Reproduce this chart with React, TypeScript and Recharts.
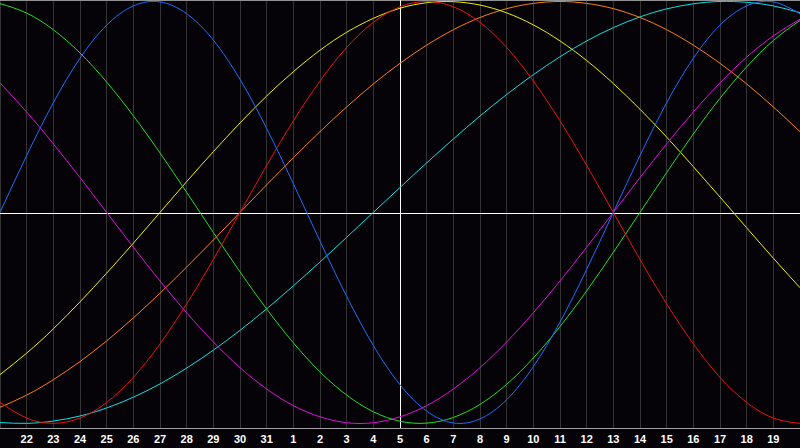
import React from "react";
import {
  LineChart,
  Line,
  XAxis,
  YAxis,
  CartesianGrid,
  ReferenceLine,
} from "recharts";

// day labels along the bottom (21st of one month to 20th of the next)
const dayLabels = [
  "21", "22", "23", "24", "25", "26", "27", "28", "29", "30", "31",
  "1", "2", "3", "4", "5", "6", "7", "8", "9", "10",
  "11", "12", "13", "14", "15", "16", "17", "18", "19", "20",
];

// cycle values per day, in percent
const blue = [
  0, 27.0, 52.0, 73.1, 88.8, 97.9, 99.8, 94.2, 81.7, 63.1, 39.8, 13.6, -13.6,
  -39.8, -63.1, -81.7, -94.2, -99.8, -97.9, -88.8, -73.1, -52.0, -27.0, 0, 27.0,
  52.0, 73.1, 88.8, 97.9, 99.8, 94.2,
];
const red = [
  -90.1, -97.5, -100, -97.5, -90.1, -78.2, -62.3, -43.4, -22.3, 0, 22.3, 43.4,
  62.3, 78.2, 90.1, 97.5, 100, 97.5, 90.1, 78.2, 62.3, 43.4, 22.3, 0, -22.3,
  -43.4, -62.3, -78.2, -90.1, -97.5, -100,
];
const green = [
  99.0, 94.5, 86.6, 75.6, 61.8, 45.8, 28.2, 9.5, -9.5, -28.2, -45.8, -61.8,
  -75.6, -86.6, -94.5, -99.0, -99.9, -97.2, -91.0, -81.5, -69.0, -54.1, -37.2,
  -18.9, 0, 18.9, 37.2, 54.1, 69.0, 81.5, 91.0,
];
const magenta = [
  61.4, 47.6, 32.5, 16.5, 0, -16.5, -32.5, -47.6, -61.4, -73.6, -83.7, -91.6,
  -96.9, -99.7, -99.7, -96.9, -91.6, -83.7, -73.6, -61.4, -47.6, -32.5, -16.5, 0,
  16.5, 32.5, 47.6, 61.4, 73.6, 83.7, 91.6,
];
const yellow = [
  -76.9, -66.7, -55.2, -42.4, -28.8, -14.6, 0, 14.6, 28.8, 42.4, 55.2, 66.7,
  76.9, 85.4, 92.0, 96.8, 99.4, 99.9, 98.3, 94.6, 88.9, 81.3, 72.0, 61.1, 48.9,
  35.7, 21.7, 7.3, -7.3, -21.7, -35.7,
];
const orange = [
  -92.4, -86.6, -79.3, -70.7, -60.9, -50.0, -38.3, -25.9, -13.1, 0, 13.1, 25.9,
  38.3, 50.0, 60.9, 70.7, 79.3, 86.6, 92.4, 96.6, 99.1, 100, 99.1, 96.6, 92.4,
  86.6, 79.3, 70.7, 60.9, 50.0, 38.3,
];
const cyan = [
  -99.6, -100.0, -98.9, -96.5, -92.7, -87.6, -81.3, -73.8, -65.3, -55.9, -45.7,
  -34.8, -23.5, -11.8, 0, 11.8, 23.5, 34.8, 45.7, 55.9, 65.3, 73.8, 81.3, 87.6,
  92.7, 96.5, 98.9, 100.0, 99.6, 97.9, 94.7,
];

const tickIdx = dayLabels.map((_, i) => i).filter((i) => i > 0 && i < dayLabels.length - 1);
const todayIdx = dayLabels.indexOf("5");

const data = dayLabels.map((day, i) => ({
  idx: i,
  day,
  blue: blue[i],
  red: red[i],
  green: green[i],
  magenta: magenta[i],
  yellow: yellow[i],
  orange: orange[i],
  cyan: cyan[i],
}));

const series = [
  { key: "cyan", color: "#10e0e0" },
  { key: "orange", color: "#ff8010" },
  { key: "yellow", color: "#f0f000" },
  { key: "magenta", color: "#e010e0" },
  { key: "green", color: "#20e020" },
  { key: "red", color: "#ee1111" },
  { key: "blue", color: "#1e6eff" },
];

const App: React.FC = () => (
  <div
    style={{
      position: "fixed",
      left: 0,
      top: 0,
      width: 800,
      height: 448,
      background: "#050308",
    }}
  >
    <LineChart
      width={800}
      height={448}
      data={data}
      margin={{ top: 0, right: 0, left: 0, bottom: 0 }}
    >
      <CartesianGrid
        horizontal={false}
        stroke="#343434"
        shapeRendering="crispEdges"
      />
      <XAxis
        dataKey="idx"
        type="number"
        domain={[0, dayLabels.length - 1]}
        ticks={tickIdx}
        interval={0}
        tickFormatter={(v) => dayLabels[v]}
        height={20}
        tickLine={false}
        tickMargin={1}
        axisLine={{ stroke: "#a0a0a0", shapeRendering: "crispEdges" }}
        tick={{
          fill: "#ffffff",
          fontSize: 11,
          fontWeight: "bold",
          fontFamily: "Liberation Sans, Arial, sans-serif",
        }}
      />
      <YAxis
        width={0}
        domain={[-102.2, 100.7]}
        allowDataOverflow
        tick={false}
        tickLine={false}
        axisLine={{ stroke: "#909090", strokeWidth: 2, shapeRendering: "crispEdges" }}
      />
      <ReferenceLine y={100.7} stroke="#909090" strokeWidth={2} shapeRendering="crispEdges" />
      <ReferenceLine y={-0.7} stroke="#ffffff" shapeRendering="crispEdges" />
      <ReferenceLine x={todayIdx} stroke="#ffffff" shapeRendering="crispEdges" />
      {series.map((s) => (
        <Line
          key={s.key}
          dataKey={s.key}
          type="natural"
          stroke={s.color}
          strokeWidth={1}
          dot={false}
          activeDot={false}
          isAnimationActive={false}
        />
      ))}
    </LineChart>
  </div>
);

export default App;
